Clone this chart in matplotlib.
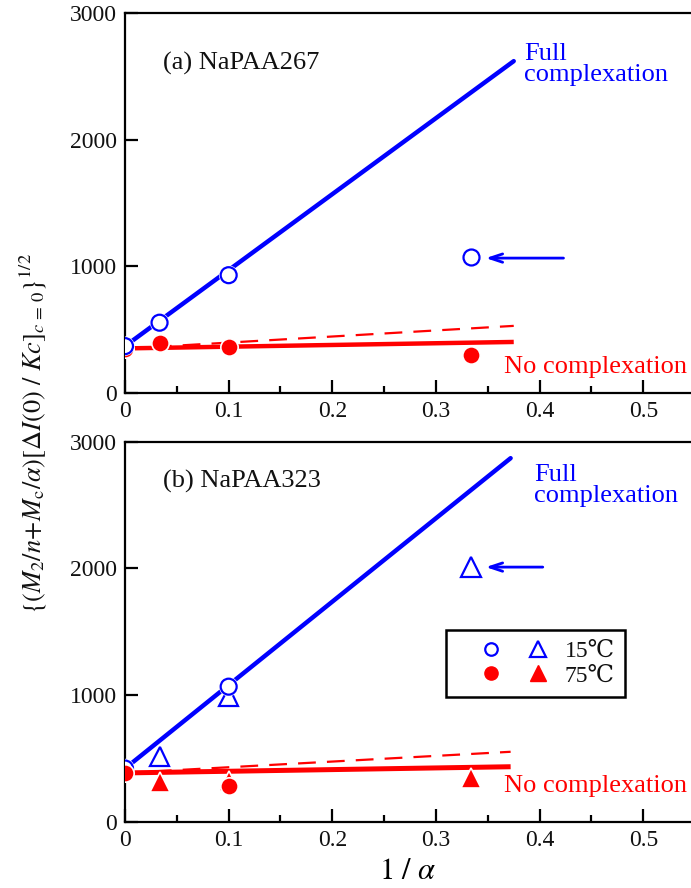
import matplotlib
matplotlib.use("Agg")
import matplotlib.pyplot as plt
import matplotlib.patheffects as pe
from matplotlib.legend_handler import HandlerTuple
from matplotlib.lines import Line2D
from matplotlib.ticker import MultipleLocator

plt.rcParams['font.family'] = ['Liberation Serif', 'DejaVu Serif']
plt.rcParams['mathtext.fontset'] = 'stix'

BLUE = '#0000ff'
RED = '#ff0000'

# ---------------- data: panel (a) NaPAA267 ----------------
a_circ15_x = [0, 1/30, 0.1]
a_circ15_y = [370, 555, 930]
a_circ15_out_x = [1/3]
a_circ15_out_y = [1070]
a_circ75_x = [0, 1/30, 0.1, 1/3]
a_circ75_y = [350, 395, 365, 300]
a_full_x = [0, 0.375]
a_full_y = [370, 2620]
a_none_x = [0, 0.375]
a_none_y = [352, 403]
a_dash_x = [0, 0.375]
a_dash_y = [350, 530]

# ---------------- data: panel (b) NaPAA323 ----------------
b_circ15_x = [0, 0.1]
b_circ15_y = [420, 1066]
b_tri15_x = [1/30, 0.1]
b_tri15_y = [513, 990]
b_tri15_out_x = [1/3]
b_tri15_out_y = [2010]
b_circ75_x = [0, 0.1]
b_circ75_y = [387, 284]
b_tri75_x = [1/30, 0.1, 1/3]
b_tri75_y = [316, 320, 345]
b_full_x = [0, 0.372]
b_full_y = [420, 2870]
b_none_x = [0, 0.372]
b_none_y = [385, 434]
b_dash_x = [0, 0.372]
b_dash_y = [385, 552]

xticks = [0, 0.1, 0.2, 0.3, 0.4, 0.5]
xticklabels = ['0', '0.1', '0.2', '0.3', '0.4', '0.5']
yticks = [0, 1000, 2000, 3000]
yticklabels = ['0', '1000', '2000', '3000']
legend_labels = ['15\u2103', '75\u2103']

FS = 17      # tick labels
TFS = 19     # annotations
W = 691 / 100
H = 888 / 100
fig = plt.figure(figsize=(W, H), dpi=100)

axL = 125 / 691
axW = (691 - 125) / 691
axH = 380 / 888
ax_a = fig.add_axes([axL, 1 - 393 / 888, axW, axH])
ax_b = fig.add_axes([axL, 1 - 821.7 / 888, axW, axH])

stroke = [pe.Stroke(linewidth=2.5, foreground='white'), pe.Normal()]

MS_C = 11.5
MS_CF = 12.5
MS_T = 14


def style(ax):
    ax.set_xlim(0, 0.546)
    ax.set_ylim(0, 3000)
    ax.spines['right'].set_visible(False)
    for s in ['left', 'bottom', 'top']:
        ax.spines[s].set_linewidth(1.6)
    ax.set_xticks(xticks)
    ax.set_xticklabels(xticklabels)
    ax.set_yticks(yticks)
    ax.set_yticklabels(yticklabels)
    ax.xaxis.set_minor_locator(MultipleLocator(0.05))
    ax.tick_params(axis='both', which='major', direction='in', length=9.5,
                   width=1.6, labelsize=FS, pad=6)
    ax.tick_params(axis='x', which='minor', direction='in', length=5, width=1.6)
    ax.tick_params(axis='x', top=False, which='both')
    ax.tick_params(axis='y', right=False)
    for lab in ax.get_xticklabels() + ax.get_yticklabels():
        lab.set_color('#111111')


def arrow(ax, x0, x1, y):
    ax.annotate('', xy=(x1, y), xytext=(x0, y),
                arrowprops=dict(arrowstyle='->,head_length=0.9,head_width=0.3',
                                color=BLUE, lw=2.0, shrinkA=0, shrinkB=0))


# ---------------- panel (a) ----------------
style(ax_a)
ax_a.plot(a_dash_x, a_dash_y, color=RED, lw=1.6, ls=(0, (8, 5)), zorder=2)
ax_a.plot(a_none_x, a_none_y, color=RED, lw=3.2, solid_capstyle='butt', zorder=2)
ax_a.plot(a_full_x, a_full_y, color=BLUE, lw=3.2, solid_capstyle='round', zorder=2)
ax_a.plot(a_circ75_x, a_circ75_y, ls='none', marker='o', ms=MS_CF, mfc=RED,
          mec='white', mew=1.2, zorder=3)
ax_a.plot(a_circ15_x, a_circ15_y, ls='none', marker='o', ms=MS_C, mfc='white',
          mec=BLUE, mew=1.6, zorder=4, path_effects=stroke)
ax_a.plot(a_circ15_out_x, a_circ15_out_y, ls='none', marker='o', ms=MS_C,
          mfc='white', mec=BLUE, mew=1.6, zorder=4)
arrow(ax_a, 0.423, 0.348, 1065)
ax_a.text(0.067, 0.868, '(a) NaPAA267', transform=ax_a.transAxes, fontsize=TFS,
          ha='left', va='center', color='#111111')
ax_a.text(0.385, 2765, 'Full\ncomplexation', color=BLUE, fontsize=TFS,
          ha='left', va='top', linespacing=0.95)
ax_a.text(0.366, 208, 'No complexation', color=RED, fontsize=TFS,
          ha='left', va='center')

# ---------------- panel (b) ----------------
style(ax_b)
ax_b.plot(b_dash_x, b_dash_y, color=RED, lw=1.6, ls=(0, (8, 5)), zorder=2)
ax_b.plot(b_none_x, b_none_y, color=RED, lw=3.6, solid_capstyle='butt', zorder=2)
ax_b.plot(b_full_x, b_full_y, color=BLUE, lw=3.2, solid_capstyle='round', zorder=2)
ax_b.plot(b_tri15_x, b_tri15_y, ls='none', marker='^', ms=MS_T, mfc='white',
          mec=BLUE, mew=1.6, zorder=3, path_effects=stroke)
ax_b.plot(b_circ15_x, b_circ15_y, ls='none', marker='o', ms=MS_C, mfc='white',
          mec=BLUE, mew=1.6, zorder=4, path_effects=stroke)
ax_b.plot(b_tri15_out_x, b_tri15_out_y, ls='none', marker='^', ms=MS_T,
          mfc='white', mec=BLUE, mew=1.6, zorder=4)
ax_b.plot(b_tri75_x, b_tri75_y, ls='none', marker='^', ms=MS_T, mfc=RED,
          mec='white', mew=1.2, zorder=5)
ax_b.plot(b_circ75_x, b_circ75_y, ls='none', marker='o', ms=MS_CF, mfc=RED,
          mec='white', mew=1.2, zorder=6)
arrow(ax_b, 0.403, 0.348, 2010)
ax_b.text(0.067, 0.895, '(b) NaPAA323', transform=ax_b.transAxes, fontsize=TFS,
          ha='left', va='center', color='#111111')
ax_b.text(0.395, 2825, 'Full\ncomplexation', color=BLUE, fontsize=TFS,
          ha='left', va='top', linespacing=0.95)
ax_b.text(0.366, 282, 'No complexation', color=RED, fontsize=TFS,
          ha='left', va='center')

# legend
h15c = Line2D([], [], ls='none', marker='o', ms=9, mfc='white', mec=BLUE, mew=1.6)
h15t = Line2D([], [], ls='none', marker='^', ms=12, mfc='white', mec=BLUE, mew=1.6)
h75c = Line2D([], [], ls='none', marker='o', ms=9.5, mfc=RED, mec=RED)
h75t = Line2D([], [], ls='none', marker='^', ms=12, mfc=RED, mec=RED)
LFS = 17
leg = ax_b.legend([(h15c, h15t), (h75c, h75t)], legend_labels,
                  handler_map={tuple: HandlerTuple(ndivide=None, pad=-0.89)},
                  loc='upper left', bbox_to_anchor=(0.567, 0.504),
                  borderaxespad=0, fontsize=LFS, handlelength=4.87,
                  handletextpad=-0.3, borderpad=0.45, labelspacing=0.12,
                  fancybox=False, framealpha=1, edgecolor='black')
leg.get_frame().set_linewidth(1.8)
for t in leg.get_texts():
    t.set_color('#111111')

# axis labels
ax_b.set_xlabel(r'$1\ /\ \alpha$', fontsize=22, labelpad=4)
fig.text(33 / 691, 1 - 434 / 888,
         r'$\{(M_2/n\!+\!M_{\rm c}/\alpha)[\Delta I(0)\ /\ Kc]_{c\,=\,0}\}^{1/2}$',
         rotation=90, fontsize=19, ha='center', va='center', color='#111111')

fig.savefig('out.png', dpi=100)
